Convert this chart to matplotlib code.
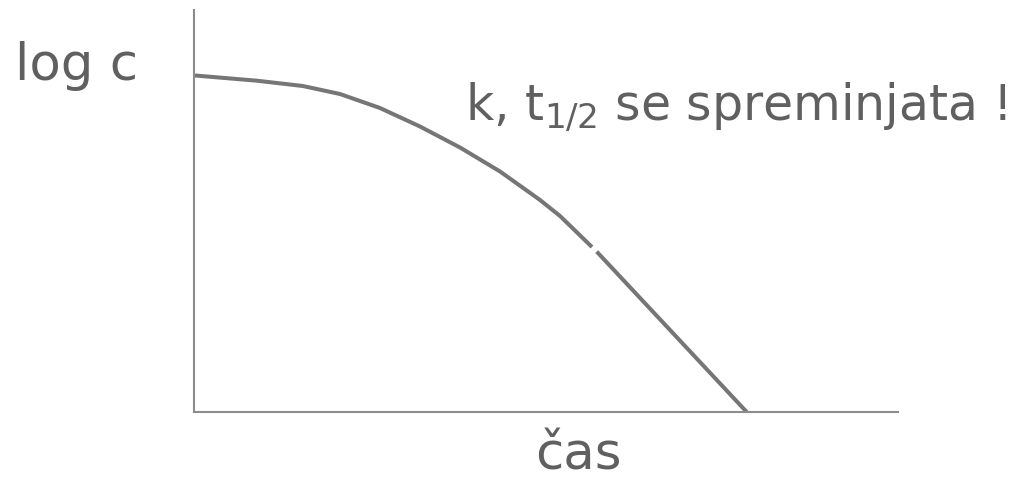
import matplotlib
matplotlib.use("Agg")
import matplotlib.pyplot as plt

plt.rcParams['mathtext.fontset'] = 'dejavusans'

# curve data (time, log c), two segments separated by a small gap
time_a = [0.014, 0.895, 1.548, 2.074, 2.642, 3.210, 3.778, 4.347, 4.915, 5.199, 5.653]
logc_a = [8.371, 8.241, 8.109, 7.910, 7.562, 7.102, 6.580, 5.983, 5.274, 4.876, 4.104]
time_b = [5.720, 7.851]
logc_b = [3.99, 0.0]

ylabel = "log c"
xlabel = "čas"
note = r"k, t$_{1/2}$ se spreminjata !"

W, H = 1021, 492
fig = plt.figure(figsize=(W / 100, H / 100), dpi=100)
ax = fig.add_axes([194 / W, 1 - 412 / H, (898 - 194) / W, (412 - 10) / H])
ax.set_xlim(0, 10)
ax.set_ylim(0, 10)

line_col = "#767676"
ax.plot(time_a, logc_a, color=line_col, lw=2.9, solid_capstyle='butt', solid_joinstyle='round')
ax.plot(time_b, logc_b, color=line_col, lw=2.9, solid_capstyle='butt', solid_joinstyle='round')

for s in ['top', 'right']:
    ax.spines[s].set_visible(False)
for s in ['left', 'bottom']:
    ax.spines[s].set_color("#8c8c8c")
    ax.spines[s].set_linewidth(1.5)
ax.set_xticks([])
ax.set_yticks([])

txt_col = "#606060"
fig.text(15 / W, 1 - 80 / H, ylabel, fontsize=37, color=txt_col, ha='left', va='baseline')
fig.text(465 / W, 1 - 120 / H, note, fontsize=35.2, color=txt_col, ha='left', va='baseline')
fig.text(578 / W, 1 - 470 / H, xlabel, fontsize=37, color=txt_col, ha='center', va='baseline')

fig.savefig("out.png", dpi=100, facecolor='white')
